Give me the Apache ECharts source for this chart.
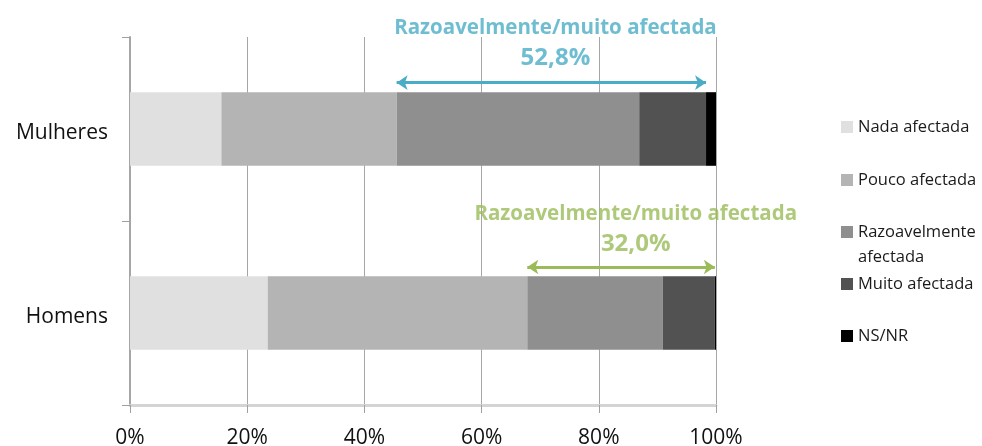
<!DOCTYPE html>
<html>
<head>
<meta charset="utf-8">
<script src="https://cdn.jsdelivr.net/npm/echarts@6/dist/echarts.min.js"></script>
<style>
  html, body { margin: 0; padding: 0; background: #fff; }
  #chart { width: 982px; height: 446px; }
</style>
</head>
<body>
<div id="chart"></div>
<script>
// data (percent of respondents)
const categories = ["Homens", "Mulheres"];
const seriesNames = ["Nada afectada", "Pouco afectada", "Razoavelmente afectada", "Muito afectada", "NS/NR"];
const nada = [23.5, 15.6];
const pouco = [44.3, 29.9];
const razoavel = [23.1, 41.4];
const muito = [8.9, 11.4];
const nsnr = [0.2, 1.7];
const colors = ["#e0e0e0", "#b4b4b4", "#8f8f8f", "#525252", "#000000"];
const xTicks = [0, 20, 40, 60, 80, 100];

const values = [nada, pouco, razoavel, muito, nsnr];
const font = "'Open Sans', sans-serif";

// "Razoavelmente/muito" span per category
const spanStart = categories.map((c, i) => nada[i] + pouco[i]);
const spanEnd = categories.map((c, i) => nada[i] + pouco[i] + razoavel[i] + muito[i]);
const spanPct = categories.map((c, i) => (razoavel[i] + muito[i]).toFixed(1).replace(".", ",") + "%");

// annotation look, per category (Homens, Mulheres)
const annColors = ["#9bbb59", "#4bacc6"];
const arrowY = [0.75, 1.752];   // on the hidden 0..2 helper axis
const textY = [0.957, 1.965];
const textShift = [2.5, 0.7];   // label centre offset from arrow middle (in %)

const chart = echarts.init(document.getElementById("chart"));

const barSeries = seriesNames.map((name, k) => ({
  name: name,
  type: "bar",
  stack: "total",
  yAxisIndex: 0,
  barCategoryGap: "60%",
  itemStyle: { color: colors[k] },
  emphasis: { disabled: true },
  data: values[k]
}));

const annSeries = categories.map((c, i) => ({
  type: "scatter",
  yAxisIndex: 1,
  clip: false,
  symbolSize: 0,
  silent: true,
  label: {
    show: true,
    position: "inside",
    formatter: "{t|Razoavelmente/muito afectada}\n{p|" + spanPct[i] + "}",
    rich: {
      t: { fontFamily: font, fontWeight: "bold", fontSize: 20.5, color: annColors[i], lineHeight: 30, align: "center" },
      p: { fontFamily: font, fontWeight: "bold", fontSize: 24, color: annColors[i], lineHeight: 30, align: "center" }
    }
  },
  data: [[(spanStart[i] + spanEnd[i]) / 2 + textShift[i], textY[i]]],
  markLine: {
    silent: true,
    symbol: ["arrow", "arrow"],
    symbolSize: [11, 11],
    lineStyle: { color: annColors[i], width: 3, type: "solid" },
    label: { show: false },
    data: [[{ coord: [spanStart[i], arrowY[i]] }, { coord: [spanEnd[i], arrowY[i]] }]]
  }
}));

// one legend block per item so the spacing follows the picture
const legendCentres = [127, 180, 232, 284, 336];
const legends = seriesNames.map((name, k) => {
  const twoLine = name === "Razoavelmente afectada";
  return {
    data: [name],
    left: 841,
    top: legendCentres[k] - (twoLine ? 37.5 : 12.5),
    padding: 0,
    icon: "rect",
    itemWidth: 12,
    itemHeight: 12,
    selectedMode: false,
    // leading blank line keeps the square level with the first text line
    formatter: (n) => twoLine ? " \nRazoavelmente\nafectada" : n,
    textStyle: { fontFamily: font, fontSize: 16.5, color: "#1a1a1a", lineHeight: 25 }
  };
});

chart.setOption({
  animation: false,
  legend: legends,
  grid: { left: 130, right: 266, top: 37, bottom: 41, outerBoundsMode: "none", containLabel: false },
  xAxis: {
    type: "value",
    min: 0,
    max: 100,
    interval: 20,
    axisLine: { show: true, lineStyle: { color: "#d4d4d4", width: 3 } },
    axisTick: { show: true, length: 8, lineStyle: { color: "#a0a0a0" } },
    splitLine: { show: true, lineStyle: { color: "#a6a6a6", width: 1 } },
    axisLabel: {
      margin: 23,
      fontFamily: font,
      fontSize: 21,
      color: "#111",
      formatter: (v) => xTicks.includes(v) ? v + "%" : ""
    }
  },
  yAxis: [
    {
      type: "category",
      data: categories,
      axisLine: { show: true, lineStyle: { color: "#a6a6a6", width: 2 } },
      axisTick: { show: true, length: 8, lineStyle: { color: "#a0a0a0" } },
      axisLabel: {
        margin: 22,
        formatter: (v) => "{c|" + v + "}",
        rich: { c: { fontFamily: font, fontSize: 21, color: "#111", padding: [8, 0, 0, 0] } }
      }
    },
    { type: "value", min: 0, max: 2, show: false }
  ],
  series: barSeries.concat(annSeries)
});
</script>
</body>
</html>
